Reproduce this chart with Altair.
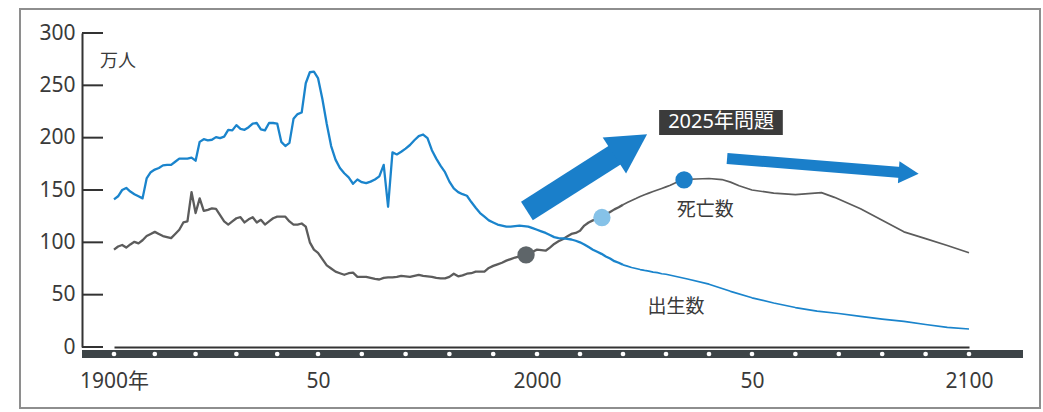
import altair as alt
import pandas as pd

FONT = "Noto Sans, Noto Sans CJK JP"
TEXT_C = "#3a3a3a"
BLUE = "#1a84cc"
GRAY = "#5c5c5c"

# ---------------- data (万人) ----------------
hist_years_b = list(range(1900, 2031))
births_hist = [
    141, 144, 150, 152, 148.5, 146, 144, 142, 161, 167,
    169.5, 171, 173.5, 174, 174, 177, 180, 180, 180, 181,
    178, 196, 198.5, 197.5, 198, 200.5, 199.5, 201, 207.5, 207,
    212, 208.5, 207.5, 210, 213.5, 214, 208, 207, 214, 214,
    213.5, 196, 192, 195, 218, 222.5, 224, 252, 262.5, 263,
    257, 237, 213, 192, 179, 171, 166, 162, 156, 160,
    157.5, 156.5, 158, 160, 163, 174, 134, 186, 184, 186.5,
    189.5, 193, 197.5, 201.5, 203, 199.5, 188, 180, 173, 167,
    158, 151.5, 148, 146, 144.5, 138.5, 133, 128, 124.5, 121,
    119, 117, 116, 115, 115, 115.5, 116, 115.5, 115, 113.5,
    112, 110.5, 109, 107, 105, 104, 103.7, 103.4, 102.7, 101.5,
    100, 98, 95.5, 93, 91, 89, 86.5, 84.5, 82, 80.5,
    78.5, 77.3, 76, 75, 74, 73.2, 72.5, 71.5, 71, 70,
    69.5,
]
proj_years_b = [2035, 2040, 2045, 2050, 2055, 2060, 2065, 2070, 2075, 2080, 2085, 2090, 2095, 2100]
births_proj = [65, 60, 53.2, 47, 42, 37.7, 34.2, 32, 29.2, 26.7, 24.5, 21.5, 18.7, 17.2]

hist_years_d = list(range(1900, 2036))
deaths_hist = [
    93, 96, 97.5, 95, 98, 100.5, 99, 102, 106, 108,
    110, 108, 106, 105, 104, 108, 112, 119, 120, 148,
    128, 142, 130, 131, 132.5, 132, 126, 120, 117, 120,
    123, 124, 119, 122, 124, 119, 121.5, 117, 120, 123,
    124.5, 124.5, 124.5, 120, 117, 117, 118, 115, 100, 93,
    90, 84, 78, 75, 72, 70.5, 69, 70.5, 71, 67,
    67, 67, 66, 65, 64.5, 66, 66.5, 66.5, 67, 68,
    67.5, 67, 68, 69, 68, 67.5, 67, 66, 65.5, 65.5,
    67, 70, 67.5, 68.5, 70, 70.5, 72, 72, 72, 75.5,
    77.5, 79, 80.5, 82.5, 84, 85.5, 86.5, 87.5, 89, 91,
    93, 92.5, 92, 95, 98.5, 101, 103, 105.5, 108, 109,
    111, 116, 119, 121, 122.5, 124.5, 126.5, 129, 131.5, 133.5,
    136, 138, 140, 141.8, 143.8, 145.5, 147, 148.5, 150, 151.5,
    153, 154.5, 156.5, 158.5, 160, 160.2,
]
proj_years_d = [2037, 2040, 2043, 2045, 2047, 2050, 2055, 2060, 2063, 2066, 2069, 2072, 2075, 2080, 2085, 2090, 2095, 2100]
deaths_proj = [160.5, 161, 160, 157.5, 154, 150, 147, 145.5, 146.5, 147.5, 143, 137.5, 132, 121, 110, 103.5, 97, 90]

# year from which the curves are drawn thinner (estimates)
thin_from = 2020

# highlighted points on the deaths curve
dot_years = [1997.5, 2015.1, 2034.2]
dot_values = [88, 123.7, 159.6]
dot_colors = ["#5e6569", "#86c2e8", "#1c7fc8"]

# axis ticks / labels
x_tick_values = [1900, 1950, 2000, 2050, 2100]
x_tick_labels = ["1900年", "50", "2000", "50", "2100"]
x_minor_dots = list(range(1900, 2101, 10))
y_tick_values = [0, 50, 100, 150, 200, 250, 300]

# annotations (data coordinates)
arrow_x0 = [1997.7, 2044.2]
arrow_y0 = [129.9, 180.1]
arrow_x1 = [2019.9, 2085.0]
arrow_y1 = [188.1, 166.5]
arrow_w = [22, 11]
head_x = [2021.8, 2086.1]
head_y = [193.2, 166.2]
head_angle = [327, 4]
head_size = [1521, 400]

label_text = ["死亡数", "出生数"]
label_x = [2039.1, 2032.3]
label_y = [130.9, 38.2]

box_text = "2025年問題"
box_x = [2028.4, 2057.1]
box_y = [202.5, 226.4]
box_cx = 2042.8
box_cy = 214.5

# ---------------- frames ----------------
births_df = pd.DataFrame({"year": hist_years_b + proj_years_b, "value": births_hist + births_proj})
deaths_df = pd.DataFrame({"year": hist_years_d + proj_years_d, "value": deaths_hist + deaths_proj})
dots_df = pd.DataFrame({"year": dot_years, "value": dot_values, "c": dot_colors})
minor_df = pd.DataFrame({"year": x_minor_dots})
yt_df = pd.DataFrame({"value": y_tick_values})
arrow_df = pd.DataFrame({"year": arrow_x0, "value": arrow_y0, "year2": arrow_x1, "value2": arrow_y1, "w": arrow_w})
head_df = pd.DataFrame({"year": head_x, "value": head_y, "a": head_angle, "s": head_size})
label_df = pd.DataFrame({"year": label_x, "value": label_y, "t": label_text})
box_df = pd.DataFrame({"year": [box_x[0]], "year2": [box_x[1]], "value": [box_y[0]], "value2": [box_y[1]]})
boxt_df = pd.DataFrame({"year": [box_cx], "value": [box_cy], "t": [box_text]})
one = pd.DataFrame({"a": [0]})

W, H = 941, 314
xscale = alt.Scale(domain=x_tick_values, range=[32, 236, 455, 670, 887], nice=False, zero=False)
yscale = alt.Scale(domain=[0, 300], nice=False, zero=True)

label_expr = "''"
for v, l in reversed(list(zip(x_tick_values, x_tick_labels))):
    label_expr = f"datum.value == {v} ? '{l}' : ({label_expr})"


def X(**kw):
    return alt.X("year:Q", scale=xscale, title=None, **kw)


def Y(**kw):
    return alt.Y("value:Q", scale=yscale, title=None, **kw)


frame = alt.Chart(one).mark_rect(fillOpacity=0, stroke="#8e8e8e", strokeWidth=2).encode(
    x=alt.value(-62), x2=alt.value(958), y=alt.value(-24), y2=alt.value(375)
)
bar = alt.Chart(one).mark_rule(color="#3d4447", strokeWidth=8).encode(
    x=alt.value(0), x2=alt.value(W), y=alt.value(H + 7)
)
minor = alt.Chart(minor_df).mark_point(filled=True, color="white", opacity=1, size=22).encode(
    x=X(), y=alt.value(H + 7)
)
yticks = alt.Chart(yt_df).mark_rule(color="#333333", strokeWidth=2).encode(
    x=alt.value(0), x2=alt.value(21), y=Y()
)


def curve(df, color, axis=False):
    base = alt.Chart(df)
    if axis:
        enc = dict(
            x=X(axis=alt.Axis(values=x_tick_values, labelExpr=label_expr, labelOverlap=False, labelFlush=False)),
            y=Y(axis=alt.Axis(values=y_tick_values, format="d", labelFlush=False)),
        )
    else:
        enc = dict(x=X(), y=Y())
    old = base.transform_filter(alt.datum.year <= thin_from).mark_line(
        color=color, strokeWidth=2.3, strokeJoin="round"
    ).encode(**enc)
    new = base.transform_filter(alt.datum.year >= thin_from).mark_line(
        color=color, strokeWidth=1.7, strokeJoin="round"
    ).encode(x=X(), y=Y())
    return old, new


d_old, d_new = curve(deaths_df, GRAY)
b_old, b_new = curve(births_df, BLUE, axis=True)

dots = alt.Chart(dots_df).mark_circle(size=300, opacity=1).encode(
    x=X(), y=Y(), color=alt.Color("c:N", scale=None)
)
shafts = alt.Chart(arrow_df).mark_rule(color="#1a7fca").encode(
    x=X(), y=Y(), x2="year2:Q", y2="value2:Q", strokeWidth=alt.StrokeWidth("w:Q", scale=None)
)
heads = alt.Chart(head_df).mark_point(
    shape="M -1 -1.1 L 1 0 L -1 1.1 Z", filled=True, color="#1a7fca", opacity=1
).encode(
    x=X(), y=Y(), angle=alt.Angle("a:Q", scale=None), size=alt.Size("s:Q", scale=None)
)
labels = alt.Chart(label_df).mark_text(
    font=FONT, fontSize=19, color=TEXT_C, align="center", baseline="middle"
).encode(x=X(), y=Y(), text="t:N")
box = alt.Chart(box_df).mark_rect(color="#3b3b3b").encode(x=X(), x2="year2:Q", y=Y(), y2="value2:Q")
boxt = alt.Chart(boxt_df).mark_text(
    font=FONT, fontSize=20, color="white", align="center", baseline="middle"
).encode(x=X(), y=Y(), text="t:N")
unit = alt.Chart(one).mark_text(
    text="万人", font=FONT, fontSize=18, color=TEXT_C, align="left", baseline="middle"
).encode(x=alt.value(18), y=alt.value(29))

chart = (
    alt.layer(frame, bar, minor, yticks, d_old, d_new, b_old, b_new, dots, shafts, heads, labels, box, boxt, unit)
    .properties(
        width=W,
        height=H,
        padding={"left": 82, "top": 33, "right": 20, "bottom": 65},
        autosize="none",
        background="white",
    )
    .configure_axis(
        labelFont=FONT,
        labelFontSize=21,
        labelColor=TEXT_C,
        domainColor="#333333",
        domainWidth=2,
        ticks=False,
        grid=False,
        labelFlush=False,
    )
    .configure_axisY(labelPadding=7)
    .configure_axisX(labelPadding=23)
    .configure_view(stroke=None)
)

chart.save("out.html", embed_options={"renderer": "svg", "actions": False})
